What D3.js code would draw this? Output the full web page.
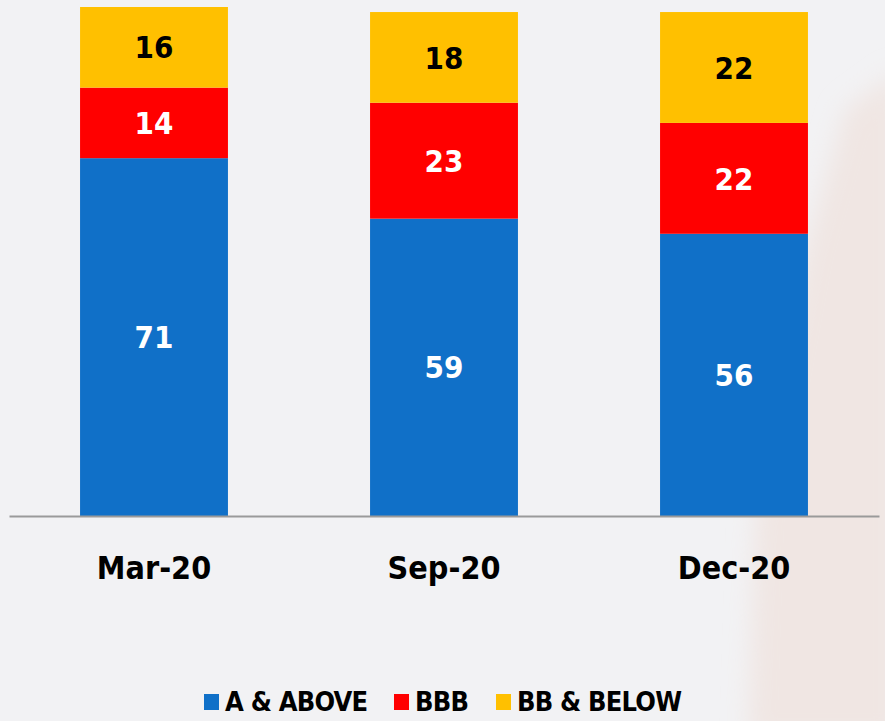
<!DOCTYPE html>
<html>
<head>
<meta charset="utf-8">
<script src="https://cdn.jsdelivr.net/npm/d3@7"></script>
<style>
  html, body { margin: 0; padding: 0; background: #f2f2f4; }
  svg { display: block; }
  svg text { font-family: "DejaVu Sans Condensed", "DejaVu Sans", sans-serif; font-weight: bold; }
</style>
</head>
<body>
<svg id="chart" width="885" height="721"></svg>
<script>
// chart data
var categories = ["Mar-20", "Sep-20", "Dec-20"];
var seriesKeys = ["A & ABOVE", "BBB", "BB & BELOW"];
var aAbove = [71, 59, 56];
var bbb = [14, 23, 22];
var bbBelow = [16, 18, 22];

var colors = ["#1070c8", "#ff0000", "#ffc000"];
var labelColors = ["#ffffff", "#ffffff", "#000000"];

var rows = categories.map(function(c, i) {
    return {cat: c, "A & ABOVE": aAbove[i], "BBB": bbb[i], "BB & BELOW": bbBelow[i]};
});

var svg = d3.select("#chart");

// faint blurred backdrop on the right
var defs = svg.append("defs");
defs.append("filter").attr("id", "blur")
    .attr("x", "-50%").attr("y", "-50%").attr("width", "200%").attr("height", "200%")
    .append("feGaussianBlur").attr("stdDeviation", 12);
svg.append("path")
    .attr("d", "M900,70 L845,110 L805,250 L755,520 L748,740 L900,740 Z")
    .attr("fill", "#f0e6e3")
    .attr("filter", "url(#blur)");

var x = d3.scaleBand()
    .domain(categories)
    .range([9, 879])
    .paddingInner(0.49)
    .paddingOuter(0.245);

var y = d3.scaleLinear()
    .domain([0, 101])
    .range([516, 7]);

var stack = d3.stack().keys(seriesKeys);
var layers = stack(rows);

var layer = svg.selectAll(".layer")
    .data(layers)
    .enter().append("g")
    .attr("class", "layer")
    .attr("fill", function(d, i) { return colors[i]; });

layer.selectAll("rect")
    .data(function(d) { return d; })
    .enter().append("rect")
    .attr("x", function(d) { return x(d.data.cat); })
    .attr("y", function(d) { return y(d[1]); })
    .attr("width", x.bandwidth())
    .attr("height", function(d) { return y(d[0]) - y(d[1]); });

layer.selectAll("text")
    .data(function(d, i) { return d.map(function(p) { return {p: p, i: i}; }); })
    .enter().append("text")
    .attr("x", function(d) { return x(d.p.data.cat) + x.bandwidth() / 2; })
    .attr("y", function(d) { return (y(d.p[0]) + y(d.p[1])) / 2; })
    .attr("dy", "0.36em")
    .attr("text-anchor", "middle")
    .style("font-size", "31px")
    .attr("fill", function(d) { return labelColors[d.i]; })
    .text(function(d) { return d.p[1] - d.p[0]; });

// axis
var axis = svg.append("g")
    .attr("transform", "translate(0," + y(0) + ")")
    .call(d3.axisBottom(x).tickSize(0).tickPadding(40));
axis.attr("font-family", null).attr("font-size", null);
axis.select(".domain").attr("stroke", "#9a9a9a").attr("stroke-width", 2);
axis.selectAll("text")
    .attr("fill", "#000")
    .style("font-size", "32px");

// legend
var legendX = [204, 394, 496];
var legend = svg.append("g").attr("class", "legend");
var item = legend.selectAll("g")
    .data(seriesKeys)
    .enter().append("g")
    .attr("transform", function(d, i) { return "translate(" + legendX[i] + ",694)"; });
item.append("rect")
    .attr("width", 15)
    .attr("height", 16)
    .attr("fill", function(d, i) { return colors[i]; });
item.append("text")
    .attr("x", 21)
    .attr("y", 17)
    .style("font-size", "27px")
    .style("letter-spacing", "-0.8px")
    .attr("fill", "#000")
    .text(function(d) { return d; });
</script>
</body>
</html>
